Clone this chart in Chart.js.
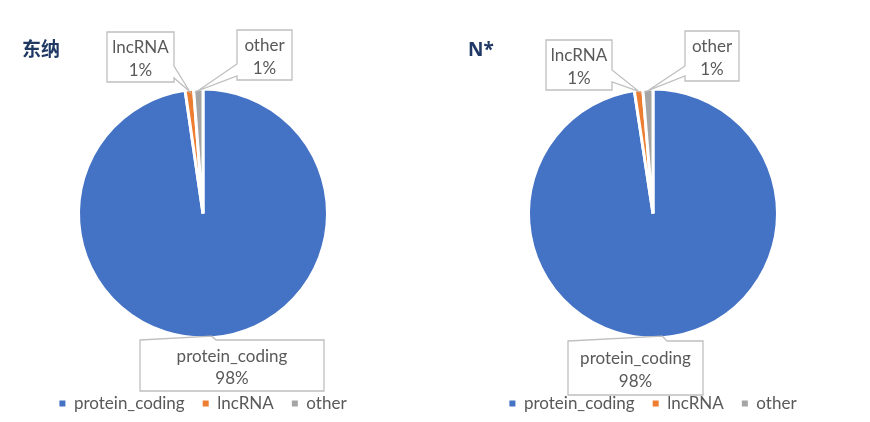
<!DOCTYPE html>
<html>
<head>
<meta charset="utf-8">
<script src="https://cdn.jsdelivr.net/npm/chart.js@4.4.1/dist/chart.umd.min.js"></script>
<style>
  html, body { margin: 0; padding: 0; background: #ffffff; }
  body { width: 870px; height: 422px; position: relative; overflow: hidden; }
  canvas { position: absolute; top: 0; }
  #c1 { left: 0px; }
  #c2 { left: 450px; }
</style>
</head>
<body>
<canvas id="c1" width="412" height="422"></canvas>
<canvas id="c2" width="412" height="422"></canvas>
<script>
// ---- data ----
const categories = ['protein_coding', 'lncRNA', 'other'];
const chartTitles = ['东纳', 'N*'];
const valuesDongna = [97.7, 1.1, 1.2];
const valuesN = [97.6, 1.1, 1.3];
const sliceColors = ['#4472C4', '#ED7D31', '#A5A5A5'];

// ---- callout box layout (pixels within each canvas) ----
const calloutLayoutDongna = [
  { box: [140, 340, 184, 51], side: 'top',   base: [0, 76] },
  { box: [107, 32, 67, 50],   side: 'right', base: [34, 46] },
  { box: [237, 30, 55, 50],   side: 'left',  base: [34, 46] }
];
const calloutLayoutN = [
  { box: [118, 341, 135, 54], side: 'top',   base: [0, 99] },
  { box: [96, 40, 66, 50],    side: 'right', base: [30, 42] },
  { box: [235, 31, 54, 50],   side: 'left',  base: [35, 45] }
];

const TEXT_COLOR = '#595959';
const FONT = 'Lato';

function makeCalloutPlugin(layout, title, titleX) {
  return {
    id: 'callouts',
    afterDatasetsDraw(chart) {
      const ctx = chart.ctx;
      const meta = chart.getDatasetMeta(0);
      const data = chart.data.datasets[0].data;
      const total = data.reduce((a, b) => a + b, 0);
      ctx.save();
      layout.forEach((c, i) => {
        const arc = meta.data[i];
        const p = arc.getProps(['x', 'y', 'startAngle', 'endAngle', 'outerRadius'], true);
        const mid = (p.startAngle + p.endAngle) / 2;
        const r = p.outerRadius - 1.5;
        const tip = [p.x + Math.cos(mid) * r, p.y + Math.sin(mid) * r];
        const [x, y, w, h] = c.box;
        const [b0, b1] = c.base;
        const pts = [];
        pts.push([x, y]);
        if (c.side === 'top') { pts.push([x + b0, y], tip, [x + b1, y]); }
        pts.push([x + w, y]);
        if (c.side === 'right') { pts.push([x + w, y + b0], tip, [x + w, y + b1]); }
        pts.push([x + w, y + h]);
        if (c.side === 'bottom') { pts.push([x + b1, y + h], tip, [x + b0, y + h]); }
        pts.push([x, y + h]);
        if (c.side === 'left') { pts.push([x, y + b1], tip, [x, y + b0]); }
        ctx.beginPath();
        ctx.moveTo(pts[0][0], pts[0][1]);
        for (let k = 1; k < pts.length; k++) ctx.lineTo(pts[k][0], pts[k][1]);
        ctx.closePath();
        ctx.fillStyle = '#ffffff';
        ctx.fill();
        ctx.strokeStyle = '#BFBFBF';
        ctx.lineWidth = 1.3;
        ctx.lineJoin = 'miter';
        ctx.stroke();
        const pct = Math.round(data[i] / total * 100) + '%';
        ctx.fillStyle = TEXT_COLOR;
        ctx.font = '17px ' + FONT;
        ctx.textAlign = 'center';
        ctx.textBaseline = 'middle';
        const cx = x + w / 2, cy = y + h / 2;
        ctx.fillText(chart.data.labels[i], cx, cy - 9);
        ctx.fillText(pct, cx, cy + 13.5);
      });
      ctx.fillStyle = '#1F3864';
      ctx.font = 'bold 19px "Noto Sans", "Noto Sans CJK SC"';
      ctx.textAlign = 'left';
      ctx.textBaseline = 'middle';
      ctx.fillText(title, titleX, 51);
      ctx.restore();
    }
  };
}

function makeChart(id, values, layout, title, titleX) {
  return new Chart(document.getElementById(id), {
    type: 'pie',
    data: {
      labels: categories,
      datasets: [{
        data: values,
        backgroundColor: sliceColors,
        borderColor: '#ffffff',
        borderWidth: 3,
        radius: 124.5
      }]
    },
    options: {
      responsive: false,
      animation: false,
      devicePixelRatio: 1,
      layout: { padding: { top: 50, bottom: 0, left: 0, right: 6 } },
      plugins: {
        tooltip: { enabled: false },
        title: { display: false },
        legend: {
          display: true,
          position: 'bottom',
          labels: {
            color: TEXT_COLOR,
            font: { family: FONT, size: 17, lineHeight: 1 },
            usePointStyle: true,
            pointStyle: 'rect',
            boxWidth: 6,
            boxHeight: 6,
            padding: 18,
            generateLabels(chart) {
              const ds = chart.data.datasets[0];
              return chart.data.labels.map((lab, i) => ({
                text: lab,
                fillStyle: ds.backgroundColor[i],
                strokeStyle: ds.backgroundColor[i],
                lineWidth: 0,
                pointStyle: 'rect',
                fontColor: TEXT_COLOR,
                hidden: false,
                index: i
              }));
            }
          }
        }
      }
    },
    plugins: [makeCalloutPlugin(layout, title, titleX)]
  });
}

makeChart('c1', valuesDongna, calloutLayoutDongna, chartTitles[0], 22);
makeChart('c2', valuesN, calloutLayoutN, chartTitles[1], 18);
</script>
</body>
</html>
